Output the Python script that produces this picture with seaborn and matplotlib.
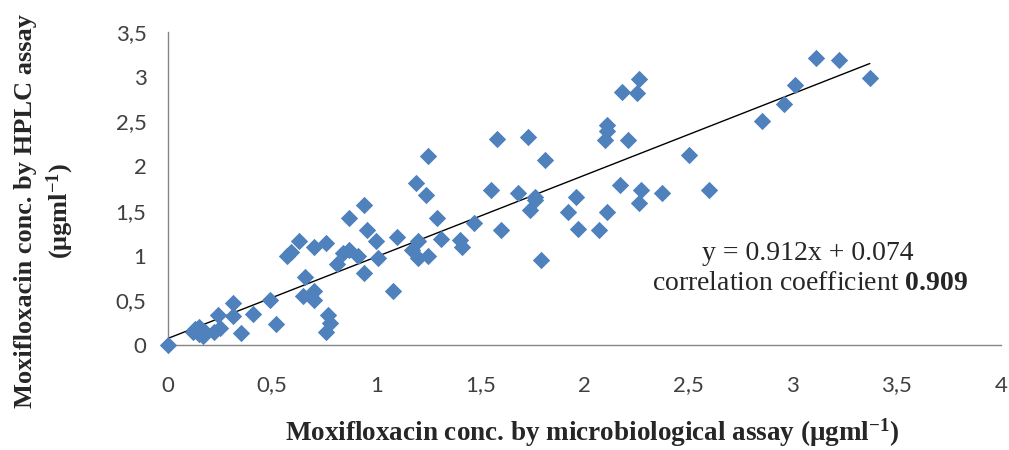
import matplotlib
matplotlib.use("Agg")
import matplotlib.pyplot as plt
import seaborn as sns
import numpy as np
from matplotlib.ticker import FuncFormatter

# ---- data ----
micro = [0.00, 0.12, 0.13, 0.15, 0.15, 0.17, 0.18, 0.22, 0.25, 0.24,
         0.31, 0.31, 0.35, 0.41, 0.49, 0.52, 0.57, 0.59, 0.63, 0.66,
         0.65, 0.70, 0.70, 0.70, 0.76, 0.77, 0.78, 0.76, 0.81, 0.84,
         0.87, 0.87, 0.91, 0.94, 0.94, 0.955, 1.00, 1.01, 1.08, 1.10,
         1.17, 1.20, 1.20, 1.19, 1.24, 1.25, 1.25, 1.29, 1.31, 1.40,
         1.41, 1.47, 1.55, 1.58, 1.60, 1.68, 1.73, 1.74, 1.76, 1.76,
         1.79, 1.81, 1.92, 1.96, 1.97, 2.07, 2.10, 2.11, 2.11, 2.11,
         2.17, 2.18, 2.21, 2.25, 2.26, 2.26, 2.27, 2.37, 2.50, 2.60,
         2.85, 2.96, 3.01, 3.11, 3.22, 3.37]
hplc = [0.00, 0.15, 0.18, 0.20, 0.12, 0.10, 0.14, 0.15, 0.19, 0.33,
        0.47, 0.32, 0.13, 0.35, 0.50, 0.23, 1.00, 1.04, 1.16, 0.76,
        0.55, 0.60, 0.50, 1.10, 1.14, 0.33, 0.25, 0.15, 0.91, 1.03,
        1.06, 1.42, 0.99, 1.57, 0.80, 1.29, 1.16, 0.97, 0.60, 1.21,
        1.06, 1.16, 0.97, 1.81, 1.68, 0.99, 2.11, 1.42, 1.19, 1.17,
        1.10, 1.36, 1.73, 2.30, 1.29, 1.70, 2.33, 1.51, 1.66, 1.62,
        0.95, 2.07, 1.49, 1.66, 1.30, 1.29, 2.29, 2.39, 2.46, 1.49,
        1.79, 2.83, 2.29, 2.82, 2.98, 1.59, 1.73, 1.70, 2.13, 1.73,
        2.50, 2.70, 2.91, 3.21, 3.19, 2.99]
slope = 0.912
intercept = 0.074
corr = 0.909
x_ticks = [0, 0.5, 1, 1.5, 2, 2.5, 3, 3.5, 4]
y_ticks = [0, 0.5, 1, 1.5, 2, 2.5, 3, 3.5]

sns.set_style("white")
plt.rcParams["mathtext.fontset"] = "custom"
plt.rcParams["mathtext.rm"] = "Liberation Serif:bold"
plt.rcParams["mathtext.bf"] = "Liberation Serif:bold"
plt.rcParams["mathtext.it"] = "Liberation Serif:bold"

fig = plt.figure(figsize=(10.09, 4.5), dpi=100)
ax = fig.add_axes([168 / 1009, 1 - 345 / 450, (1001 - 168) / 1009, (345 - 32) / 450])

sns.scatterplot(x=micro, y=hplc, ax=ax, marker="D", color="#4F81BD",
                s=78, linewidth=0, clip_on=False, zorder=3)

xl = np.array([0, max(micro)])
sns.lineplot(x=xl, y=slope * xl + intercept, ax=ax, color="black",
             linewidth=1.0, zorder=2)

ax.set_xlim(0, 4)
ax.set_ylim(0, 3.5)
ax.set_xticks(x_ticks)
ax.set_yticks(y_ticks)

def comma(v, pos):
    return ("%g" % v).replace(".", ",")

ax.xaxis.set_major_formatter(FuncFormatter(comma))
ax.yaxis.set_major_formatter(FuncFormatter(comma))

for side in ["top", "right"]:
    ax.spines[side].set_visible(False)
for side in ["left", "bottom"]:
    ax.spines[side].set_color("#868686")
    ax.spines[side].set_linewidth(1.0)

ax.tick_params(axis="x", direction="in", length=5.5, width=1, color="#868686",
               pad=22, labelsize=16, labelcolor="#404040")
ax.tick_params(axis="y", direction="out", length=5.5, width=1, color="#868686",
               pad=10, labelsize=16, labelcolor="#404040")
for lab in ax.get_xticklabels() + ax.get_yticklabels():
    lab.set_family("Lato")

fig.text(592 / 1009, 1 - 433 / 450,
         "Moxifloxacin conc. by microbiological assay (μgml$^{-1}$)",
         ha="center", va="center", family="Liberation Serif",
         fontweight="bold", fontsize=19.5)
fig.text(45 / 1009, 1 - 211 / 450,
         "Moxifloxacin conc. by HPLC assay\n(μgml$^{-1}$)",
         ha="center", va="center", rotation=90, family="Liberation Serif",
         fontweight="bold", fontsize=19, linespacing=1.3, multialignment="center")

fig.text(808 / 1009, 1 - 253 / 450, f"y = {slope:.3f}x + {intercept:.3f}",
         ha="center", va="center", family="Liberation Serif", fontsize=20)
fig.text(810 / 1009, 1 - 283 / 450,
         "correlation coefficient $\\mathbf{%.3f}$" % corr,
         ha="center", va="center", family="Liberation Serif", fontsize=20)

fig.savefig("out.png", dpi=100, facecolor="white")
